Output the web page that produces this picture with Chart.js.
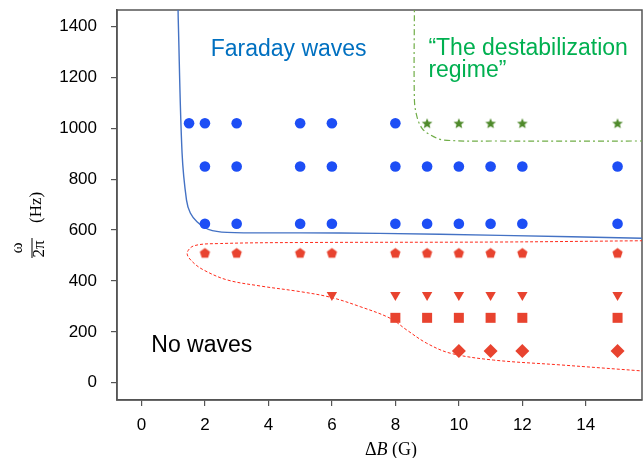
<!DOCTYPE html>
<html lang="en">
<head>
  <meta charset="UTF-8">
  <title>Faraday waves phase diagram</title>
  <script src="https://cdn.jsdelivr.net/npm/chart.js"></script>
  <style>
    body { margin: 0; background: #fff; }
    canvas { display: block; }
  </style>
</head>
<body>
  <canvas id="phaseChart" width="644" height="458"></canvas>
  <script>
    // tick labels
    const xTicks = [0, 2, 4, 6, 8, 10, 12, 14];
    const yTicks = [0, 200, 400, 600, 800, 1000, 1200, 1400];

    // Faraday waves (blue circles), one array per frequency row
    const circleHighX = [1.5, 2, 3, 5, 6, 8];
    const circleMidX = [2, 3, 5, 6, 8, 9, 10, 11, 12, 15];
    const circleLowX = [2, 3, 5, 6, 8, 9, 10, 11, 12, 15];
    const circleFreq = [1020, 850, 625];

    // destabilization regime (green stars)
    const starX = [9, 10, 11, 12, 15];
    const starFreq = 1020;

    // red markers below the threshold
    const pentagonX = [2, 3, 5, 6, 8, 9, 10, 11, 12, 15];
    const pentagonFreq = 510;
    const triangleX = [6, 8, 9, 10, 11, 12, 15];
    const triangleFreq = 345;
    const squareX = [8, 9, 10, 11, 12, 15];
    const squareFreq = 255;
    const diamondX = [10, 11, 12, 15];
    const diamondFreq = 125;

    // boundary curves
    const blueCurveX = [1.15, 1.16, 1.28, 1.42, 1.54, 1.75, 2.11, 2.7, 5.0, 7.5, 11.3, 15.8];
    const blueCurveY = [1500, 1426, 903, 718, 667, 633, 603, 591, 589, 587, 579, 568];
    const redCurveX = [15.8, 11.3, 5.0, 2.49, 1.65, 1.44, 1.6, 1.96, 2.7, 3.75, 5.0, 5.95, 6.89, 7.84, 8.36, 8.99, 9.73, 11.09, 13.19, 15.8];
    const redCurveY = [558, 553, 551, 547, 538, 509, 476, 443, 404, 380, 358, 336, 299, 253, 207, 155, 116, 89, 70, 46];
    const greenCurveX = [8.6, 8.6, 8.68, 8.84, 9.1, 9.52, 11.3, 15.8];
    const greenCurveY = [1500, 1112, 1046, 1000, 974, 954, 950, 950];

    const pts = (xs, ys) => xs.map((x, i) => ({ x: x, y: Array.isArray(ys) ? ys[i] : ys }));

    function shapeImage(color, r, n, inner) {
      const c = document.createElement('canvas');
      const s = Math.ceil(r * 2 + 2);
      c.width = c.height = s;
      const g = c.getContext('2d');
      g.fillStyle = color;
      g.beginPath();
      const k = inner ? n * 2 : n;
      for (let i = 0; i < k; i++) {
        const a = -Math.PI / 2 + i * 2 * Math.PI / k;
        const rr = inner && i % 2 ? r * inner : r;
        g.lineTo(s / 2 + rr * Math.cos(a), s / 2 + 0.5 + rr * Math.sin(a));
      }
      g.closePath();
      g.fill();
      return c;
    }

    const blue = '#1d4ef5';
    const red = '#e8432f';
    const pentagon = shapeImage(red, 5.4, 5);
    const star = shapeImage('#4f8a2b', 5.6, 5, 0.45);

    const sans = "'Liberation Sans', Arial, Helvetica, sans-serif";
    const serif = "'Liberation Serif', 'Times New Roman', serif";

    const markerSet = (data, style, radius, color, rotation) => ({
      data: data,
      pointStyle: style,
      pointRadius: radius,
      pointRotation: rotation || 0,
      backgroundColor: color,
      borderWidth: 0
    });

    const curve = (data, color, width, dash) => ({
      data: data,
      showLine: true,
      borderColor: color,
      borderWidth: width,
      borderDash: dash,
      pointRadius: 0,
      tension: 0.35,
      fill: false
    });

    // no extra room for the outer tick labels
    const noPad = s => {
      s.paddingTop = s.paddingBottom = s.paddingLeft = s.paddingRight = 0;
    };

    // labels, axis titles and the frame drawn straight on the canvas
    const decor = {
      id: 'decor',
      beforeDatasetsDraw(chart) {
        const { ctx, chartArea: a } = chart;
        ctx.save();
        ctx.strokeStyle = '#555';
        ctx.lineWidth = 1.5;
        ctx.strokeRect(a.left, a.top, a.right - a.left, a.bottom - a.top);
        ctx.restore();
      },
      afterDraw(chart) {
        const { ctx, scales: { x, y } } = chart;
        ctx.save();
        ctx.textBaseline = 'alphabetic';
        ctx.font = '23px ' + sans;
        ctx.fillStyle = '#0070c0';
        ctx.fillText('Faraday waves', x.getPixelForValue(2.18), y.getPixelForValue(1285));
        ctx.fillStyle = '#00b050';
        ctx.fillText('\u201cThe destabilization', x.getPixelForValue(9.04), y.getPixelForValue(1287));
        ctx.fillText('regime\u201d', x.getPixelForValue(9.04), y.getPixelForValue(1203));
        ctx.fillStyle = '#000';
        ctx.fillText('No waves', x.getPixelForValue(0.31), y.getPixelForValue(120));

        // x title: ΔB (G)
        ctx.font = '18px ' + serif;
        const p1 = '\u0394', p3 = ' (G)';
        const w1 = ctx.measureText(p1).width, w3 = ctx.measureText(p3).width;
        ctx.font = 'italic 18px ' + serif;
        const w2 = ctx.measureText('B').width;
        let tx = 391 - (w1 + w2 + w3) / 2;
        ctx.font = '18px ' + serif;
        ctx.fillText(p1, tx, 455);
        ctx.font = 'italic 18px ' + serif;
        ctx.fillText('B', tx + w1, 455);
        ctx.font = '18px ' + serif;
        ctx.fillText(p3, tx + w1 + w2, 455);

        // y title: ω / 2π (Hz), rotated
        ctx.rotate(-Math.PI / 2);
        ctx.font = '17px ' + serif;
        ctx.textAlign = 'center';
        ctx.fillText('\u03c9', -248, 21.5);
        ctx.fillText('2\u03c0', -249, 44);
        ctx.fillRect(-258, 31.5, 20, 1);
        ctx.textAlign = 'left';
        ctx.fillText('(Hz)', -223, 40.5);
        ctx.restore();
      }
    };

    const ctx = document.getElementById('phaseChart').getContext('2d');

    const phaseChart = new Chart(ctx, {
      type: 'scatter',
      data: {
        datasets: [
          markerSet(pts(circleHighX, circleFreq[0]), 'circle', 5.3, blue),
          markerSet(pts(circleMidX, circleFreq[1]), 'circle', 5.3, blue),
          markerSet(pts(circleLowX, circleFreq[2]), 'circle', 5.3, blue),
          markerSet(pts(starX, starFreq), star, 6, '#4f8a2b'),
          markerSet(pts(pentagonX, pentagonFreq), pentagon, 6, red),
          markerSet(pts(triangleX, triangleFreq), 'triangle', 6, red, 180),
          markerSet(pts(squareX, squareFreq), 'rect', 7.07, red),
          markerSet(pts(diamondX, diamondFreq), 'rectRot', 7, red),
          curve(pts(blueCurveX, blueCurveY), '#4472c4', 1.4, []),
          curve(pts(redCurveX, redCurveY), '#ff2a1a', 1, [3, 2]),
          curve(pts(greenCurveX, greenCurveY), '#70ad47', 1.2, [6, 3, 2, 3])
        ]
      },
      options: {
        responsive: false,
        animation: false,
        layout: { autoPadding: false, padding: { top: 10, right: 2, left: 0, bottom: 0 } },
        plugins: {
          legend: { display: false },
          tooltip: { enabled: false }
        },
        scales: {
          x: {
            type: 'linear',
            min: -0.77,
            max: 15.77,
            afterBuildTicks: s => { s.ticks = xTicks.map(v => ({ value: v })); },
            afterFit: s => { s.height = 58; noPad(s); },
            grid: { drawOnChartArea: false, drawTicks: true, tickLength: 6, color: '#555', lineWidth: 1.2 },
            border: { display: true, color: '#555', width: 1.5 },
            ticks: { color: '#000', font: { family: sans, size: 17 }, padding: 9, maxRotation: 0, callback: v => String(v) }
          },
          y: {
            type: 'linear',
            min: -68,
            max: 1465,
            afterBuildTicks: s => { s.ticks = yTicks.map(v => ({ value: v })); },
            afterFit: s => { s.width = 117; noPad(s); },
            grid: { drawOnChartArea: false, drawTicks: true, tickLength: 6, color: '#555', lineWidth: 1.2 },
            border: { display: true, color: '#555', width: 1.5 },
            ticks: { color: '#000', font: { family: sans, size: 17 }, padding: 14, callback: v => String(v) }
          }
        }
      },
      plugins: [decor]
    });
  </script>
</body>
</html>
